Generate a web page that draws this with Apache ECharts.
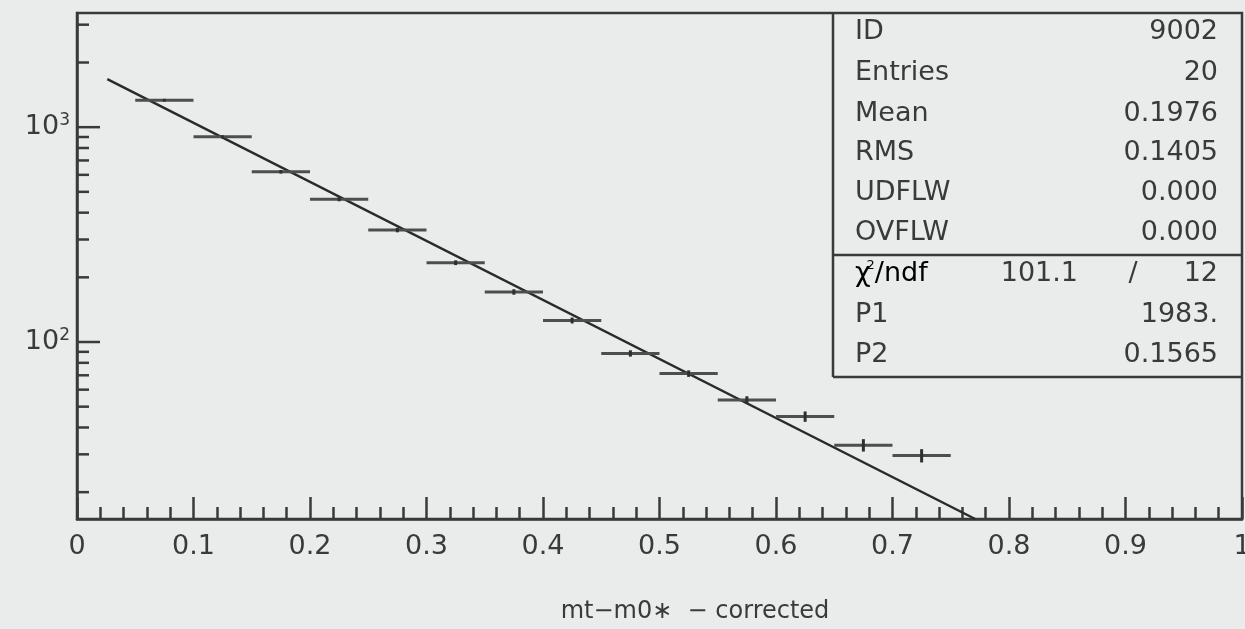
<!DOCTYPE html>
<html>
<head>
<meta charset="utf-8">
<script src="https://cdn.jsdelivr.net/npm/echarts@6/dist/echarts.min.js"></script>
<style>
  html, body { margin: 0; padding: 0; background: #eaeceb; }
  #chart { width: 1245px; height: 629px; }
</style>
</head>
<body>
<div id="chart"></div>
<script>
// ---- data ----
const binCenters = [0.075, 0.125, 0.175, 0.225, 0.275, 0.325, 0.375, 0.425, 0.475, 0.525, 0.575, 0.625, 0.675, 0.725];
const binCounts  = [1335, 902, 620, 462, 332, 234, 171, 126, 88.5, 71.3, 53.7, 45.0, 33.1, 29.6];
const binErrors  = [20, 15, 12, 10, 8, 6, 5, 4, 3, 2.5, 2.2, 2.5, 2.2, 2.1];
const binHalfWidth = 0.025;
const fitX = [0.026, 0.771];
const fitY = [1672, 15];
const xTickLabels = ['0', '0.1', '0.2', '0.3', '0.4', '0.5', '0.6', '0.7', '0.8', '0.9', '1'];
const yMajorTicks = [100, 1000];
const yMinorTicks = [20, 30, 40, 50, 60, 70, 80, 90, 200, 300, 400, 500, 600, 700, 800, 900, 2000, 3000];
const statNames  = ['ID', 'Entries', 'Mean', 'RMS', 'UDFLW', 'OVFLW'];
const statValues = ['9002', '20', '0.1976', '0.1405', '0.000', '0.000'];
const fitNames   = ['P1', 'P2'];
const fitValues  = ['1983.', '0.1565'];
const chi2Value = '101.1';
const ndfValue = '12';
const xTitle = 'mt\u2212m0\u2217  \u2212 corrected';

// ---- style ----
const FONT = 'DejaVu Sans';
const INK = '#3a3a3a';
const FS = 27;

const chart = echarts.init(document.getElementById('chart'));

const gridL = 77, gridR = 3, gridT = 13, gridB = 110;
const W = 1245, H = 629;
const boxL = 833, boxB = 377, boxSep = 255;
const rowY = [32, 73, 114, 153, 193, 233];
const fitRowY = [315, 355];
const chiY = 274;
const txtL = 855, txtR = 1218;

const graphics = [];
graphics.push({type: 'line', shape: {x1: boxL, y1: gridT, x2: boxL, y2: boxB}, style: {stroke: INK, lineWidth: 2.5}, z: 10});
graphics.push({type: 'line', shape: {x1: boxL, y1: boxB, x2: W - gridR, y2: boxB}, style: {stroke: INK, lineWidth: 2.5}, z: 10});
graphics.push({type: 'line', shape: {x1: boxL, y1: boxSep, x2: W - gridR, y2: boxSep}, style: {stroke: INK, lineWidth: 2.5}, z: 10});
statNames.forEach((n, i) => {
  graphics.push({type: 'text', x: txtL, y: rowY[i], style: {text: n, font: FS + 'px "' + FONT + '"', fill: INK, textAlign: 'left', textVerticalAlign: 'middle'}, z: 10});
  graphics.push({type: 'text', x: txtR, y: rowY[i], style: {text: statValues[i], font: FS + 'px "' + FONT + '"', fill: INK, textAlign: 'right', textVerticalAlign: 'middle'}, z: 10});
});
fitNames.forEach((n, i) => {
  graphics.push({type: 'text', x: txtL, y: fitRowY[i], style: {text: n, font: FS + 'px "' + FONT + '"', fill: INK, textAlign: 'left', textVerticalAlign: 'middle'}, z: 10});
  graphics.push({type: 'text', x: txtR, y: fitRowY[i], style: {text: fitValues[i], font: FS + 'px "' + FONT + '"', fill: INK, textAlign: 'right', textVerticalAlign: 'middle'}, z: 10});
});
graphics.push({type: 'text', x: txtL, y: chiY, style: {
  text: '{c|\u03C7}{s|2}{c|/ndf}', textAlign: 'left', textVerticalAlign: 'middle',
  rich: {c: {fontFamily: FONT, fontSize: FS, color: INK, lineHeight: 30},
         s: {fontFamily: FONT, fontSize: 13, color: INK, verticalAlign: 'top', lineHeight: 14, padding: [0, 0, 0, -4]}}
}, z: 10});
graphics.push({type: 'text', x: 1078, y: chiY, style: {text: chi2Value, font: FS + 'px "' + FONT + '"', fill: INK, textAlign: 'right', textVerticalAlign: 'middle'}, z: 10});
graphics.push({type: 'text', x: 1133, y: chiY, style: {text: '/', font: FS + 'px "' + FONT + '"', fill: INK, textAlign: 'center', textVerticalAlign: 'middle'}, z: 10});
graphics.push({type: 'text', x: txtR, y: chiY, style: {text: ndfValue, font: FS + 'px "' + FONT + '"', fill: INK, textAlign: 'right', textVerticalAlign: 'middle'}, z: 10});
graphics.push({type: 'text', x: 695, y: 612, style: {text: xTitle, font: '24px "' + FONT + '"', fill: INK, textAlign: 'center', textVerticalAlign: 'middle'}, z: 10});

const pointData = binCenters.map((x, i) => [x, binCounts[i], binErrors[i]]);
const tickData = yMajorTicks.map(v => [v, 23]).concat(yMinorTicks.map(v => [v, 12]));

const option = {
  backgroundColor: '#eaeceb',
  animation: false,
  grid: {left: gridL, right: gridR, top: gridT, bottom: gridB, containLabel: false, outerBoundsMode: 'none',
         show: true, borderColor: INK, borderWidth: 2.5, backgroundColor: 'transparent'},
  xAxis: {
    type: 'value', min: 0, max: 1, interval: 0.1,
    axisLine: {show: true, onZero: false, lineStyle: {color: INK, width: 2.5}},
    axisTick: {show: true, inside: true, length: 22, lineStyle: {color: INK, width: 2.5}},
    minorTick: {show: true, splitNumber: 5, length: 12, lineStyle: {color: INK, width: 2.5}},
    splitLine: {show: false},
    axisLabel: {
      margin: 14, color: INK, fontFamily: FONT, fontSize: FS, hideOverlap: false,
      formatter: v => xTickLabels[Math.round(v * 10)]
    }
  },
  yAxis: {
    type: 'log', logBase: 10, min: 15, max: 3400,
    axisLine: {show: true, lineStyle: {color: INK, width: 2.5}},
    axisTick: {show: false},
    splitLine: {show: false},
    axisLabel: {
      margin: 7,
      formatter: v => {
        const l = Math.log10(v);
        if (Math.abs(l - Math.round(l)) < 1e-6 && yMajorTicks.some(t => Math.abs(t - v) < 1e-6 * t)) {
          return '{a|10}{s|' + Math.round(l) + '}';
        }
        return '';
      },
      rich: {
        a: {fontFamily: FONT, fontSize: FS, color: INK, lineHeight: 30},
        s: {fontFamily: FONT, fontSize: 17, color: INK, verticalAlign: 'top', lineHeight: 18}
      }
    }
  },
  graphic: graphics,
  series: [
    {
      type: 'custom', name: 'yticks', clip: false, silent: true,
      data: tickData,
      encode: {y: 0},
      renderItem: (params, api) => {
        const v = api.value(0), len = api.value(1);
        const p = api.coord([0, v]);
        return {type: 'line', shape: {x1: p[0], y1: p[1], x2: p[0] + len, y2: p[1]}, style: {stroke: INK, lineWidth: 2.5}};
      }
    },
    {
      type: 'line', name: 'fit', data: fitX.map((x, i) => [x, fitY[i]]),
      showSymbol: false, symbol: 'none', clip: true,
      lineStyle: {color: '#2a2a2a', width: 2.5}, z: 3
    },
    {
      type: 'custom', name: 'hist', clip: true,
      data: pointData,
      encode: {x: 0, y: 1},
      renderItem: (params, api) => {
        const x = api.value(0), y = api.value(1), e = api.value(2);
        const pL = api.coord([x - binHalfWidth, y]);
        const pR = api.coord([x + binHalfWidth, y]);
        const pT = api.coord([x, y + e]);
        const pB = api.coord([x, y - e]);
        return {type: 'group', children: [
          {type: 'line', shape: {x1: pL[0], y1: pL[1], x2: pR[0], y2: pR[1]}, style: {stroke: '#4e4e4e', lineWidth: 3}},
          {type: 'line', shape: {x1: pT[0], y1: pT[1], x2: pB[0], y2: pB[1]}, style: {stroke: '#2e2e2e', lineWidth: 3}}
        ]};
      },
      z: 4
    }
  ]
};
chart.setOption(option);
</script>
</body>
</html>
